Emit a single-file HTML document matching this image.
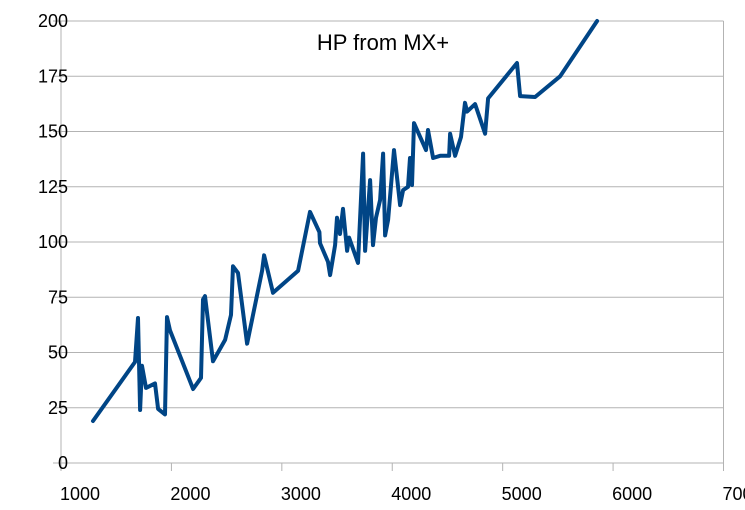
<!DOCTYPE html>
<html><head><meta charset="utf-8"><style>
html,body{margin:0;padding:0;background:#fff;}
svg{display:block;font-family:"Liberation Sans",sans-serif;}
</style></head><body>
<svg id="chart" width="745" height="510" viewBox="0 0 745 510" xmlns="http://www.w3.org/2000/svg">
<text x="383" y="50" font-size="22" text-anchor="middle" fill="#000">HP from MX+</text>
<g id="grid"></g><g id="axes"></g><g id="series"></g>
</svg>
<script>
const xValues=[1290,1670,1697,1716,1734,1770,1851,1879,1942,1960,1987,2196,2268,2286,2304,2377,2486,2540,2558,2603,2685,2821,2839,2920,3147,3255,3340,3346,3418,3437,3482,3500,3527,3554,3591,3609,3690,3736,3754,3799,3826,3853,3890,3917,3935,3962,4016,4071,4098,4143,4161,4179,4197,4306,4324,4370,4433,4515,4524,4569,4623,4659,4678,4750,4841,4868,5130,5158,5294,5520,5855];
const hpValues=[19,45.7,65.6,24,44,34,36,24.5,22,66,60,33.5,38.5,74,75.5,46,55.7,67,89,86,54,87,94,77,87,113.6,104.5,99.5,91,85,98.6,111,103.6,115,96,102,90.5,140,96,128,98.6,111,119,140,103,110,141.6,116.7,123.5,125,138,125.8,153.8,141.6,150.7,138,139,139,149,139,147.5,163,159,162.4,149,165,181,166,165.6,175,200];
const xTicks=[1000,2000,3000,4000,5000,6000,7000];
const yTicks=[0,25,50,75,100,125,150,175,200];
const NS="http://www.w3.org/2000/svg";
const L=61,R=723.5,T=21,B=463;
function sx(v){return L+(v-1000)/6000*(R-L);}
function sy(v){return B-v/200*(B-T);}
function mk(tag,attrs,parent){const e=document.createElementNS(NS,tag);for(const k in attrs)e.setAttribute(k,attrs[k]);parent.appendChild(e);return e;}
const grid=document.getElementById('grid'),axes=document.getElementById('axes'),series=document.getElementById('series');
yTicks.forEach(t=>{
 const ln=mk('line',{x1:L,x2:R,y1:sy(t),y2:sy(t),stroke:'#b3b3b3','stroke-width':1},grid);
 
 
 const tk=mk('line',{x1:L-8,x2:L,y1:sy(t),y2:sy(t),stroke:'#b3b3b3','stroke-width':1},grid);
 
 
 const tx=mk('text',{x:68,y:sy(t)+6,'font-size':18,'text-anchor':'end',fill:'#000'},axes);
 tx.textContent=t;
 
 
});
const fr=mk('line',{x1:R,x2:R,y1:T,y2:B,stroke:'#b3b3b3','stroke-width':1},grid);


const fl=mk('line',{x1:L,x2:L,y1:T,y2:B,stroke:'#b3b3b3','stroke-width':1},grid);


xTicks.forEach(t=>{
 const tk=mk('line',{x1:sx(t),x2:sx(t),y1:B,y2:B+8,stroke:'#b3b3b3','stroke-width':1},grid);
 
 
 const tx=mk('text',{x:sx(t)-1,y:500,'font-size':18,'text-anchor':'start',fill:'#000'},axes);
 tx.textContent=t;
 
 
});
const pts=xValues.map((v,i)=>sx(v).toFixed(1)+','+sy(hpValues[i]).toFixed(1)).join(' ');
const pl=mk('polyline',{points:pts,fill:'none',stroke:'#004586','stroke-width':4,'stroke-linejoin':'round','stroke-linecap':'round'},series);


</script>
</body></html>
